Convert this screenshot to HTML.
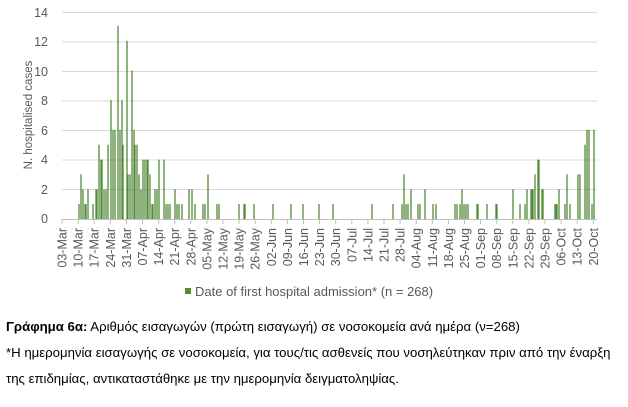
<!DOCTYPE html>
<html><head><meta charset="utf-8"><style>
body{margin:0;background:#fff;width:628px;height:402px;overflow:hidden}
svg text{font-family:"Liberation Sans",sans-serif}
</style></head><body>
<svg width="628" height="402" viewBox="0 0 628 402">
<g stroke="#d9d9d9" stroke-width="1">
<path d="M62 12.5H597M62 42H597M62 71.5H597M62 101H597M62 130.5H597M62 160H597M62 189.5H597"/>
</g>
<g font-size="12.5" fill="#595959" text-anchor="end">
<text x="48" y="223">0</text><text x="48" y="194">2</text><text x="48" y="164">4</text><text x="48" y="135">6</text><text x="48" y="105">8</text><text x="48" y="76">10</text><text x="48" y="46">12</text><text x="48" y="17">14</text>
</g>
<text transform="translate(32,115) rotate(-90)" font-size="11.5" fill="#595959" text-anchor="middle">N. hospitalised cases</text>
<path stroke="#538a38" stroke-width="1.3" fill="none" d="M79 219V204.1M81 219V174.4M83 219V189.3M85 219V204.1M86 219V204.1M88 219V189.3M93 219V204.1M96 219V189.3M97 219V189.3M99 219V144.7M101 219V159.6M102 219V159.6M104 219V189.3M106 219V189.3M108 219V144.7M111 219V100.1M113 219V129.8M115 219V129.8M118 219V25.8M120 219V129.8M122 219V100.1M123 219V144.7M127 219V40.7M128 219V174.4M130 219V174.4M132 219V70.4M134 219V129.8M135 219V144.7M137 219V144.7M139 219V174.4M141 219V189.3M143 219V159.6M145 219V159.6M147 219V159.6M148 219V159.6M150 219V174.4M152 219V204.1M153 219V204.1M155 219V189.3M157 219V189.3M159 219V159.6M164 219V159.6M166 219V204.1M168 219V204.1M170 219V204.1M175 219V189.3M177 219V204.1M179 219V204.1M182 219V204.1M189 219V189.3M192 219V189.3M195 219V204.1M203 219V204.1M205 219V204.1M208 219V174.4M217 219V204.1M219 219V204.1M239 219V204.1M244 219V204.1M245 219V204.1M254 219V204.1M273 219V204.1M291 219V204.1M303 219V204.1M319 219V204.1M333 219V204.1M372 219V204.1M393 219V204.1M402 219V204.1M404 219V174.4M406 219V204.1M408 219V204.1M411 219V189.3M418 219V204.1M420 219V204.1M425 219V189.3M433 219V204.1M436 219V204.1M455 219V204.1M457 219V204.1M460 219V204.1M462 219V189.3M464 219V204.1M466 219V204.1M468 219V204.1M477 219V204.1M478 219V204.1M487 219V204.1M496 219V204.1M497 219V204.1M513 219V189.3M520 219V204.1M525 219V204.1M527 219V189.3M531 219V189.3M532 219V189.3M533 219V189.3M535 219V174.4M538 219V159.6M539 219V159.6M542 219V189.3M543 219V189.3M555 219V204.1M556 219V204.1M557 219V204.1M559 219V189.3M565 219V204.1M567 219V174.4M570 219V204.1M578 219V174.4M580 219V174.4M585 219V144.7M587 219V129.8M589 219V129.8M592 219V204.1M594 219V129.8"/>
<path stroke="#bfbfbf" stroke-width="1" d="M62 219.5H597"/>
<g stroke="#bfbfbf" stroke-width="1">
<path d="M62 219v5M78.1 219v5M94.2 219v5M110.3 219v5M126.4 219v5M142.5 219v5M158.6 219v5M174.7 219v5M190.8 219v5M206.9 219v5M223 219v5M239.1 219v5M255.2 219v5M271.3 219v5M287.4 219v5M303.5 219v5M319.6 219v5M335.7 219v5M351.8 219v5M367.9 219v5M384 219v5M400.1 219v5M416.2 219v5M432.3 219v5M448.4 219v5M464.5 219v5M480.6 219v5M496.7 219v5M512.8 219v5M528.9 219v5M545 219v5M561.1 219v5M577.2 219v5M593.3 219v5"/>
</g>
<g font-size="12.5" fill="#595959" text-anchor="end">
<text transform="translate(66.5,228) rotate(-90)">03-Mar</text>
<text transform="translate(82.6,228) rotate(-90)">10-Mar</text>
<text transform="translate(98.7,228) rotate(-90)">17-Mar</text>
<text transform="translate(114.8,228) rotate(-90)">24-Mar</text>
<text transform="translate(130.9,228) rotate(-90)">31-Mar</text>
<text transform="translate(147,228) rotate(-90)">07-Apr</text>
<text transform="translate(163.1,228) rotate(-90)">14-Apr</text>
<text transform="translate(179.2,228) rotate(-90)">21-Apr</text>
<text transform="translate(195.3,228) rotate(-90)">28-Apr</text>
<text transform="translate(211.4,228) rotate(-90)">05-May</text>
<text transform="translate(227.5,228) rotate(-90)">12-May</text>
<text transform="translate(243.6,228) rotate(-90)">19-May</text>
<text transform="translate(259.7,228) rotate(-90)">26-May</text>
<text transform="translate(275.8,228) rotate(-90)">02-Jun</text>
<text transform="translate(291.9,228) rotate(-90)">09-Jun</text>
<text transform="translate(308,228) rotate(-90)">16-Jun</text>
<text transform="translate(324.1,228) rotate(-90)">23-Jun</text>
<text transform="translate(340.2,228) rotate(-90)">30-Jun</text>
<text transform="translate(356.3,228) rotate(-90)">07-Jul</text>
<text transform="translate(372.4,228) rotate(-90)">14-Jul</text>
<text transform="translate(388.5,228) rotate(-90)">21-Jul</text>
<text transform="translate(404.6,228) rotate(-90)">28-Jul</text>
<text transform="translate(420.7,228) rotate(-90)">04-Aug</text>
<text transform="translate(436.8,228) rotate(-90)">11-Aug</text>
<text transform="translate(452.9,228) rotate(-90)">18-Aug</text>
<text transform="translate(469,228) rotate(-90)">25-Aug</text>
<text transform="translate(485.1,228) rotate(-90)">01-Sep</text>
<text transform="translate(501.2,228) rotate(-90)">08-Sep</text>
<text transform="translate(517.3,228) rotate(-90)">15-Sep</text>
<text transform="translate(533.4,228) rotate(-90)">22-Sep</text>
<text transform="translate(549.5,228) rotate(-90)">29-Sep</text>
<text transform="translate(565.6,228) rotate(-90)">06-Oct</text>
<text transform="translate(581.7,228) rotate(-90)">13-Oct</text>
<text transform="translate(597.8,228) rotate(-90)">20-Oct</text>
</g>
<rect x="185" y="288" width="6" height="6" fill="#538a38"/>
<text x="195" y="296" font-size="13" fill="#595959">Date of first hospital admission* (n = 268)</text>
<g font-size="13.2" fill="#000">
<text x="6" y="331"><tspan font-weight="bold">Γράφημα 6α:</tspan> Αριθμός εισαγωγών (πρώτη εισαγωγή) σε νοσοκομεία ανά ημέρα (ν=268)</text>
<text x="6" y="357">*Η ημερομηνία εισαγωγής σε νοσοκομεία, για τους/τις ασθενείς που νοσηλεύτηκαν πριν από την έναρξη</text>
<text x="6" y="383">της επιδημίας, αντικαταστάθηκε με την ημερομηνία δειγματοληψίας.</text>
</g>
</svg>
</body></html>
